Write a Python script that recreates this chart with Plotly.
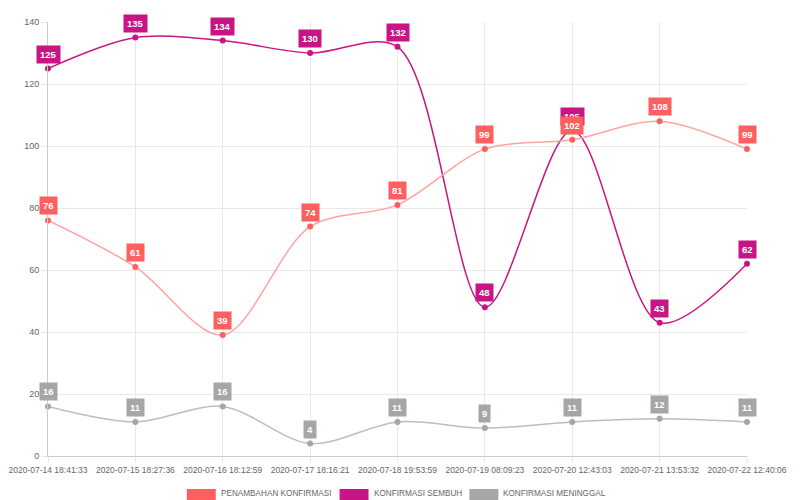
import plotly.graph_objects as go

# Data
tanggal = ["2020-07-14 18:41:33", "2020-07-15 18:27:36", "2020-07-16 18:12:59",
           "2020-07-17 18:16:21", "2020-07-18 19:53:59", "2020-07-19 08:09:23",
           "2020-07-20 12:43:03", "2020-07-21 13:53:32", "2020-07-22 12:40:06"]
penambahan = [76, 61, 39, 74, 81, 99, 102, 108, 99]
sembuh = [125, 135, 134, 130, 132, 48, 105, 43, 62]
meninggal = [16, 11, 16, 4, 11, 9, 11, 12, 11]

seriesNames = ["PENAMBAHAN KONFIRMASI", "KONFIRMASI SEMBUH", "KONFIRMASI MENINGGAL"]
lineColors = ["#ffa3a3", "#c71585", "#bdbdbd"]
pointColors = ["#ff5f5f", "#c71585", "#a6a6a6"]

fig = go.Figure()
for name, vals, lc, pc in [(seriesNames[2], meninggal, lineColors[2], pointColors[2]),
                           (seriesNames[1], sembuh, lineColors[1], pointColors[1]),
                           (seriesNames[0], penambahan, lineColors[0], pointColors[0])]:
    fig.add_trace(go.Scatter(x=tanggal, y=vals, name=name, mode='lines+markers',
                             line=dict(color=lc, width=1.5, shape='spline', smoothing=0.9),
                             marker=dict(color=pc, size=6), showlegend=False,
                             hoverinfo='x+y', cliponaxis=False))
    # value labels above each point
    for xv, yv in zip(tanggal, vals):
        fig.add_annotation(x=xv, y=yv, text="<b>%d</b>" % yv, showarrow=False,
                           yanchor='bottom', yshift=5, bgcolor=pc, borderpad=3,
                           font=dict(color='white', size=9.5, family='Liberation Sans'))

# legend boxes drawn at the bottom, in plot-area fractions (plot is 700x434 px)
plotW = 700
plotH = 434
legendX = [187, 340, 470]
for i in range(3):
    x0 = (legendX[i] - 48) / plotW
    fig.add_shape(type='rect', xref='paper', yref='paper',
                  x0=x0, x1=x0 + 29 / plotW, y0=-(500 - 456) / plotH,
                  y1=-(489 - 456) / plotH, fillcolor=pointColors[i], line=dict(width=0))
    fig.add_annotation(xref='paper', yref='paper', x=x0 + 33 / plotW, y=-(493 - 456) / plotH,
                       text=seriesNames[i], showarrow=False, xanchor='left', yanchor='middle',
                       borderpad=0,
                       font=dict(color='#666666', size=8.2, family='Liberation Sans'))

fig.update_layout(
    width=800, height=500, plot_bgcolor='white', paper_bgcolor='white',
    margin=dict(l=40, r=61, t=14, b=52),
    font=dict(family='Liberation Sans', color='#666666', size=8.5),
    xaxis=dict(type='category', range=[0, 8], showgrid=True, gridcolor='#e8e8e8',
               showline=True, linecolor='#cccccc', ticks='outside', ticklen=6,
               tickcolor='#e8e8e8', tickfont=dict(size=8.5), zeroline=False,
               automargin=False),
    yaxis=dict(range=[0, 140], dtick=20, showgrid=True, gridcolor='#e8e8e8',
               showline=True, linecolor='#cccccc', ticks='outside', ticklen=6,
               tickcolor='#e8e8e8', tickfont=dict(size=9), zeroline=False,
               automargin=False),
    showlegend=False,
)

fig.write_html("out.html")
